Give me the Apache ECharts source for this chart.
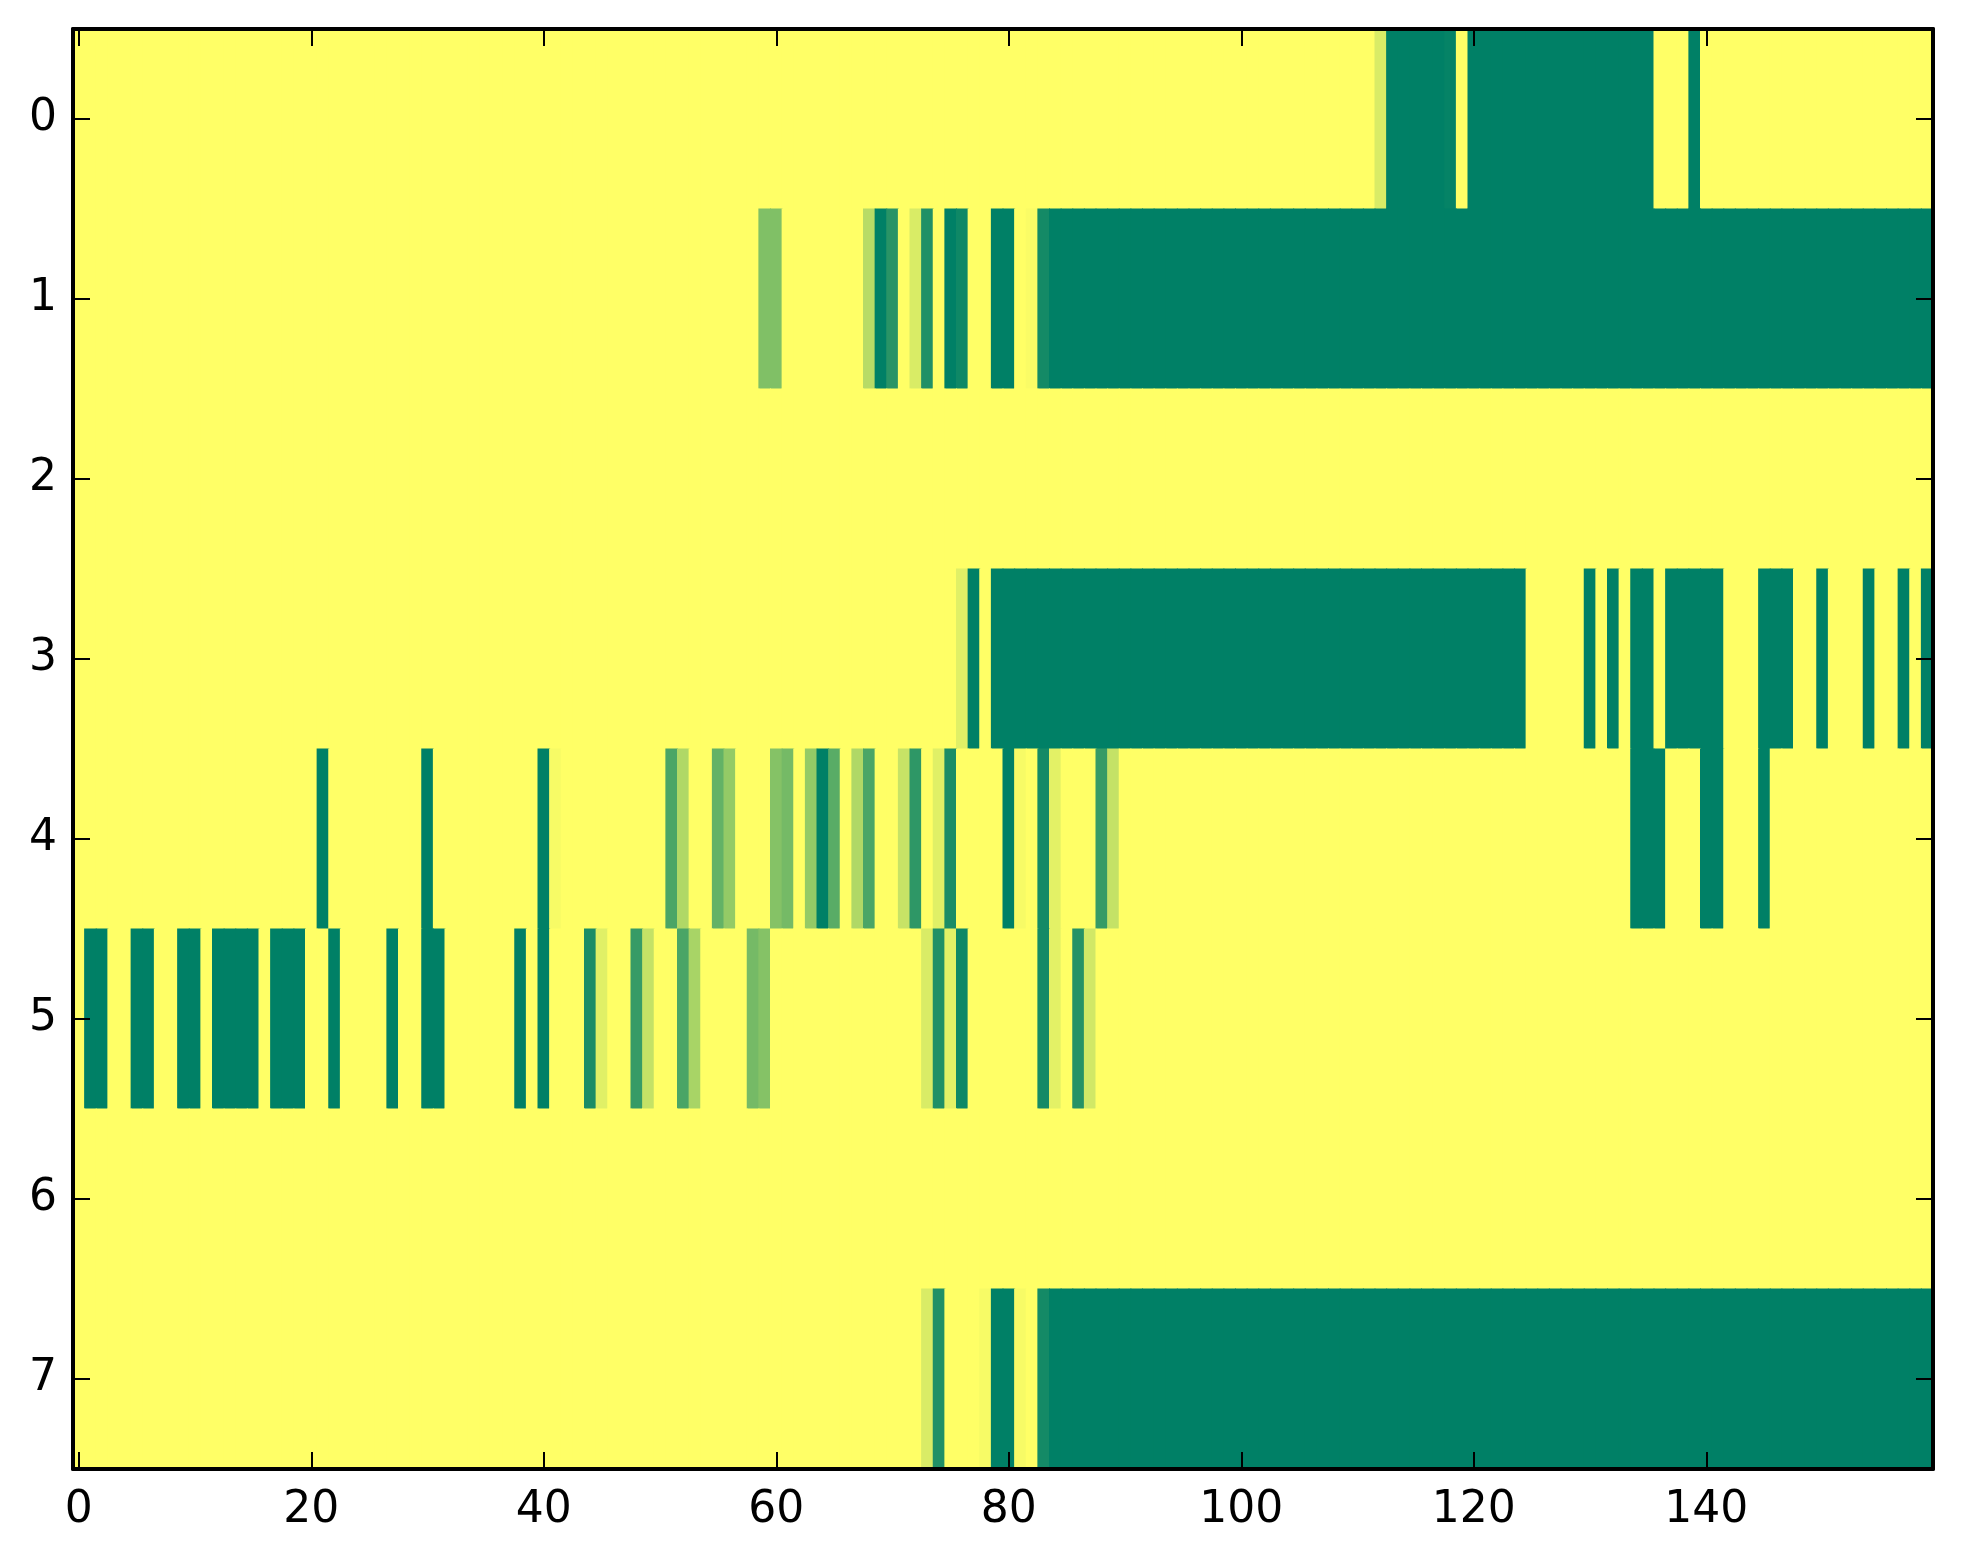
<!DOCTYPE html>
<html>
<head>
<meta charset="utf-8">
<script src="https://cdn.jsdelivr.net/npm/echarts@6/dist/echarts.min.js"></script>
<style>
html,body{margin:0;padding:0;background:#fff;}
#chart{width:1963px;height:1564px;}
</style>
</head>
<body>
<div id="chart"></div>
<script>
// Row labels (y axis, top to bottom) and x tick labels
var rowLabels = ['0','1','2','3','4','5','6','7'];
var xTickLabels = ['0','20','40','60','80','100','120','140'];
var nCols = 160;

// Cell values per row (1 = yellow, 0 = dark green), columns 0..159
var row0 = [
1,1,1,1,1,1,1,1,1,1,1,1,1,1,1,1,1,1,1,1,
1,1,1,1,1,1,1,1,1,1,1,1,1,1,1,1,1,1,1,1,
1,1,1,1,1,1,1,1,1,1,1,1,1,1,1,1,1,1,1,1,
1,1,1,1,1,1,1,1,1,1,1,1,1,1,1,1,1,1,1,1,
1,1,1,1,1,1,1,1,1,1,1,1,1,1,1,1,1,1,1,1,
1,1,1,1,1,1,1,1,1,1,1,1,0.85,0,0,0,0,0,0.02,1,
0,0,0,0,0,0,0,0,0,0,0,0,0,0,0,0,1,1,1,0,
1,1,1,1,1,1,1,1,1,1,1,1,1,1,1,1,1,1,1,1
];
var row1 = [
1,1,1,1,1,1,1,1,1,1,1,1,1,1,1,1,1,1,1,1,
1,1,1,1,1,1,1,1,1,1,1,1,1,1,1,1,1,1,1,1,
1,1,1,1,1,1,1,1,1,1,1,1,1,1,1,1,1,1,1,0.5,
0.5,1,1,1,1,1,1,1,0.72,0,0.16,1,0.85,0.125,1,0,0.06,1,1,0,
0,1,0.98,0.08,0,0,0,0,0,0,0,0,0,0,0,0,0,0,0,0,
0,0,0,0,0,0,0,0,0,0,0,0,0,0,0,0,0,0,0,0,
0,0,0,0,0,0,0,0,0,0,0,0,0,0,0,0,0,0,0,0,
0,0,0,0,0,0,0,0,0,0,0,0,0,0,0,0,0,0,0,0
];
var row2 = [
1,1,1,1,1,1,1,1,1,1,1,1,1,1,1,1,1,1,1,1,
1,1,1,1,1,1,1,1,1,1,1,1,1,1,1,1,1,1,1,1,
1,1,1,1,1,1,1,1,1,1,1,1,1,1,1,1,1,1,1,1,
1,1,1,1,1,1,1,1,1,1,1,1,1,1,1,1,1,1,1,1,
1,1,1,1,1,1,1,1,1,1,1,1,1,1,1,1,1,1,1,1,
1,1,1,1,1,1,1,1,1,1,1,1,1,1,1,1,1,1,1,1,
1,1,1,1,1,1,1,1,1,1,1,1,1,1,1,1,1,1,1,1,
1,1,1,1,1,1,1,1,1,1,1,1,1,1,1,1,1,1,1,1
];
var row3 = [
1,1,1,1,1,1,1,1,1,1,1,1,1,1,1,1,1,1,1,1,
1,1,1,1,1,1,1,1,1,1,1,1,1,1,1,1,1,1,1,1,
1,1,1,1,1,1,1,1,1,1,1,1,1,1,1,1,1,1,1,1,
1,1,1,1,1,1,1,1,1,1,1,1,1,1,1,1,0.88,0,1,0,
0,0,0,0,0,0,0,0,0,0,0,0,0,0,0,0,0,0,0,0,
0,0,0,0,0,0,0,0,0,0,0,0,0,0,0,0,0,0,0,0,
0,0,0,0,0,1,1,1,1,1,0,1,0,1,0,0,1,0,0,0,
0,0,1,1,1,0,0,0,1,1,0,1,1,1,0,1,1,0,1,0
];
var row4 = [
1,1,1,1,1,1,1,1,1,1,1,1,1,1,1,1,1,1,1,1,
1,0,1,1,1,1,1,1,1,1,0,1,1,1,1,1,1,1,1,1,
0,0.97,1,1,1,1,1,1,1,1,1,0.29,0.69,1,1,0.39,0.58,1,1,1,
0.52,0.46,1,0.58,0,0.35,1,0.69,0.29,1,1,0.78,0.18,1,0.88,0.10,1,1,1,1,
0,0.97,1,0.08,0.89,1,1,1,0.21,0.77,1,1,1,1,1,1,1,1,1,1,
1,1,1,1,1,1,1,1,1,1,1,1,1,1,1,1,1,1,1,1,
1,1,1,1,1,1,1,1,1,1,1,1,1,1,0,0,0,1,1,1,
0,0,1,1,1,0,1,1,1,1,1,1,1,1,1,1,1,1,1,1
];
var row5 = [
1,0,0,1,1,0,0,1,1,0,0,1,0,0,0,0,1,0,0,0,
1,1,0,1,1,1,1,0,1,1,0,0,1,1,1,1,1,1,0,1,
0,1,1,1,0.10,0.88,1,1,0.21,0.77,1,1,0.29,0.66,1,1,1,1,0.46,0.52,
1,1,1,1,1,1,1,1,1,1,1,1,1,0.85,0.125,0.89,0.06,1,1,1,
1,1,1,0.08,0.89,1,0.145,0.82,1,1,1,1,1,1,1,1,1,1,1,1,
1,1,1,1,1,1,1,1,1,1,1,1,1,1,1,1,1,1,1,1,
1,1,1,1,1,1,1,1,1,1,1,1,1,1,1,1,1,1,1,1,
1,1,1,1,1,1,1,1,1,1,1,1,1,1,1,1,1,1,1,1
];
var row6 = [
1,1,1,1,1,1,1,1,1,1,1,1,1,1,1,1,1,1,1,1,
1,1,1,1,1,1,1,1,1,1,1,1,1,1,1,1,1,1,1,1,
1,1,1,1,1,1,1,1,1,1,1,1,1,1,1,1,1,1,1,1,
1,1,1,1,1,1,1,1,1,1,1,1,1,1,1,1,1,1,1,1,
1,1,1,1,1,1,1,1,1,1,1,1,1,1,1,1,1,1,1,1,
1,1,1,1,1,1,1,1,1,1,1,1,1,1,1,1,1,1,1,1,
1,1,1,1,1,1,1,1,1,1,1,1,1,1,1,1,1,1,1,1,
1,1,1,1,1,1,1,1,1,1,1,1,1,1,1,1,1,1,1,1
];
var row7 = [
1,1,1,1,1,1,1,1,1,1,1,1,1,1,1,1,1,1,1,1,
1,1,1,1,1,1,1,1,1,1,1,1,1,1,1,1,1,1,1,1,
1,1,1,1,1,1,1,1,1,1,1,1,1,1,1,1,1,1,1,1,
1,1,1,1,1,1,1,1,1,1,1,1,1,0.85,0.125,1,1,1,0.97,0,
0,0.97,1,0.08,0,0,0,0,0,0,0,0,0,0,0,0,0,0,0,0,
0,0,0,0,0,0,0,0,0,0,0,0,0,0,0,0,0,0,0,0,
0,0,0,0,0,0,0,0,0,0,0,0,0,0,0,0,0,0,0,0,
0,0,0,0,0,0,0,0,0,0,0,0,0,0,0,0,0,0,0,0
];

var rows = [row0,row1,row2,row3,row4,row5,row6,row7];

// Build the library's category list and cell triples
var colCategories = [];
for (var c = 0; c < nCols; c++) colCategories.push(String(c));
var cellData = [];
rows.forEach(function (r, y) {
  r.forEach(function (v, x) { cellData.push([x, y, v]); });
});

function isTickCol(i, v) { return xTickLabels.indexOf(String(v)) >= 0; }

var font = 'DejaVu Sans';
var spine = { show: true, onZero: false, lineStyle: { color: '#000', width: 4 } };
var tickStyle = { color: '#000', width: 2 };

function renderCell(params, api) {
  var center = api.coord([api.value(0), api.value(1)]);
  var size = api.size([1, 1]);
  var ov = 1; // small overlap to avoid anti-aliasing seams between cells
  return {
    type: 'rect',
    shape: {
      x: center[0] - size[0] / 2 - ov / 2,
      y: center[1] - size[1] / 2 - ov / 2,
      width: size[0] + ov,
      height: size[1] + ov
    },
    style: { fill: api.visual('color') },
    silent: true
  };
}

var chart = echarts.init(document.getElementById('chart'), null, { renderer: 'canvas' });
chart.setOption({
  animation: false,
  backgroundColor: '#ffffff',
  grid: { left: 73, top: 29, width: 1860, height: 1440, containLabel: false },
  visualMap: {
    show: false, type: 'continuous', min: 0, max: 1, dimension: 2,
    inRange: { color: ['#008066', '#ffff66'] }
  },
  xAxis: [
    {
      type: 'category', data: colCategories, position: 'bottom', boundaryGap: true, z: 10,
      axisLine: spine,
      axisTick: { show: true, inside: true, length: 17, alignWithLabel: true, interval: isTickCol, lineStyle: tickStyle },
      axisLabel: { show: true, interval: isTickCol, color: '#000', fontSize: 44, fontFamily: font, margin: 20 },
      splitLine: { show: false }
    },
    {
      type: 'category', data: colCategories, position: 'top', boundaryGap: true, z: 10,
      axisLine: spine,
      axisTick: { show: true, inside: true, length: 17, alignWithLabel: true, interval: isTickCol, lineStyle: tickStyle },
      axisLabel: { show: false },
      splitLine: { show: false }
    }
  ],
  yAxis: [
    {
      type: 'category', data: rowLabels, inverse: true, position: 'left', boundaryGap: true, z: 10,
      axisLine: spine,
      axisTick: { show: true, inside: true, length: 17, alignWithLabel: true, interval: 0, lineStyle: tickStyle },
      axisLabel: { show: true, interval: 0, color: '#000', fontSize: 44, fontFamily: font, margin: 16 },
      splitLine: { show: false }
    },
    {
      type: 'category', data: rowLabels, inverse: true, position: 'right', boundaryGap: true, z: 10,
      axisLine: spine,
      axisTick: { show: true, inside: true, length: 17, alignWithLabel: true, interval: 0, lineStyle: tickStyle },
      axisLabel: { show: false },
      splitLine: { show: false }
    }
  ],
  series: [{
    type: 'custom',
    xAxisIndex: 0, yAxisIndex: 0,
    renderItem: renderCell,
    encode: { x: 0, y: 1 },
    data: cellData,
    clip: true,
    z: 2,
    progressive: 0
  }]
});
</script>
</body>
</html>
